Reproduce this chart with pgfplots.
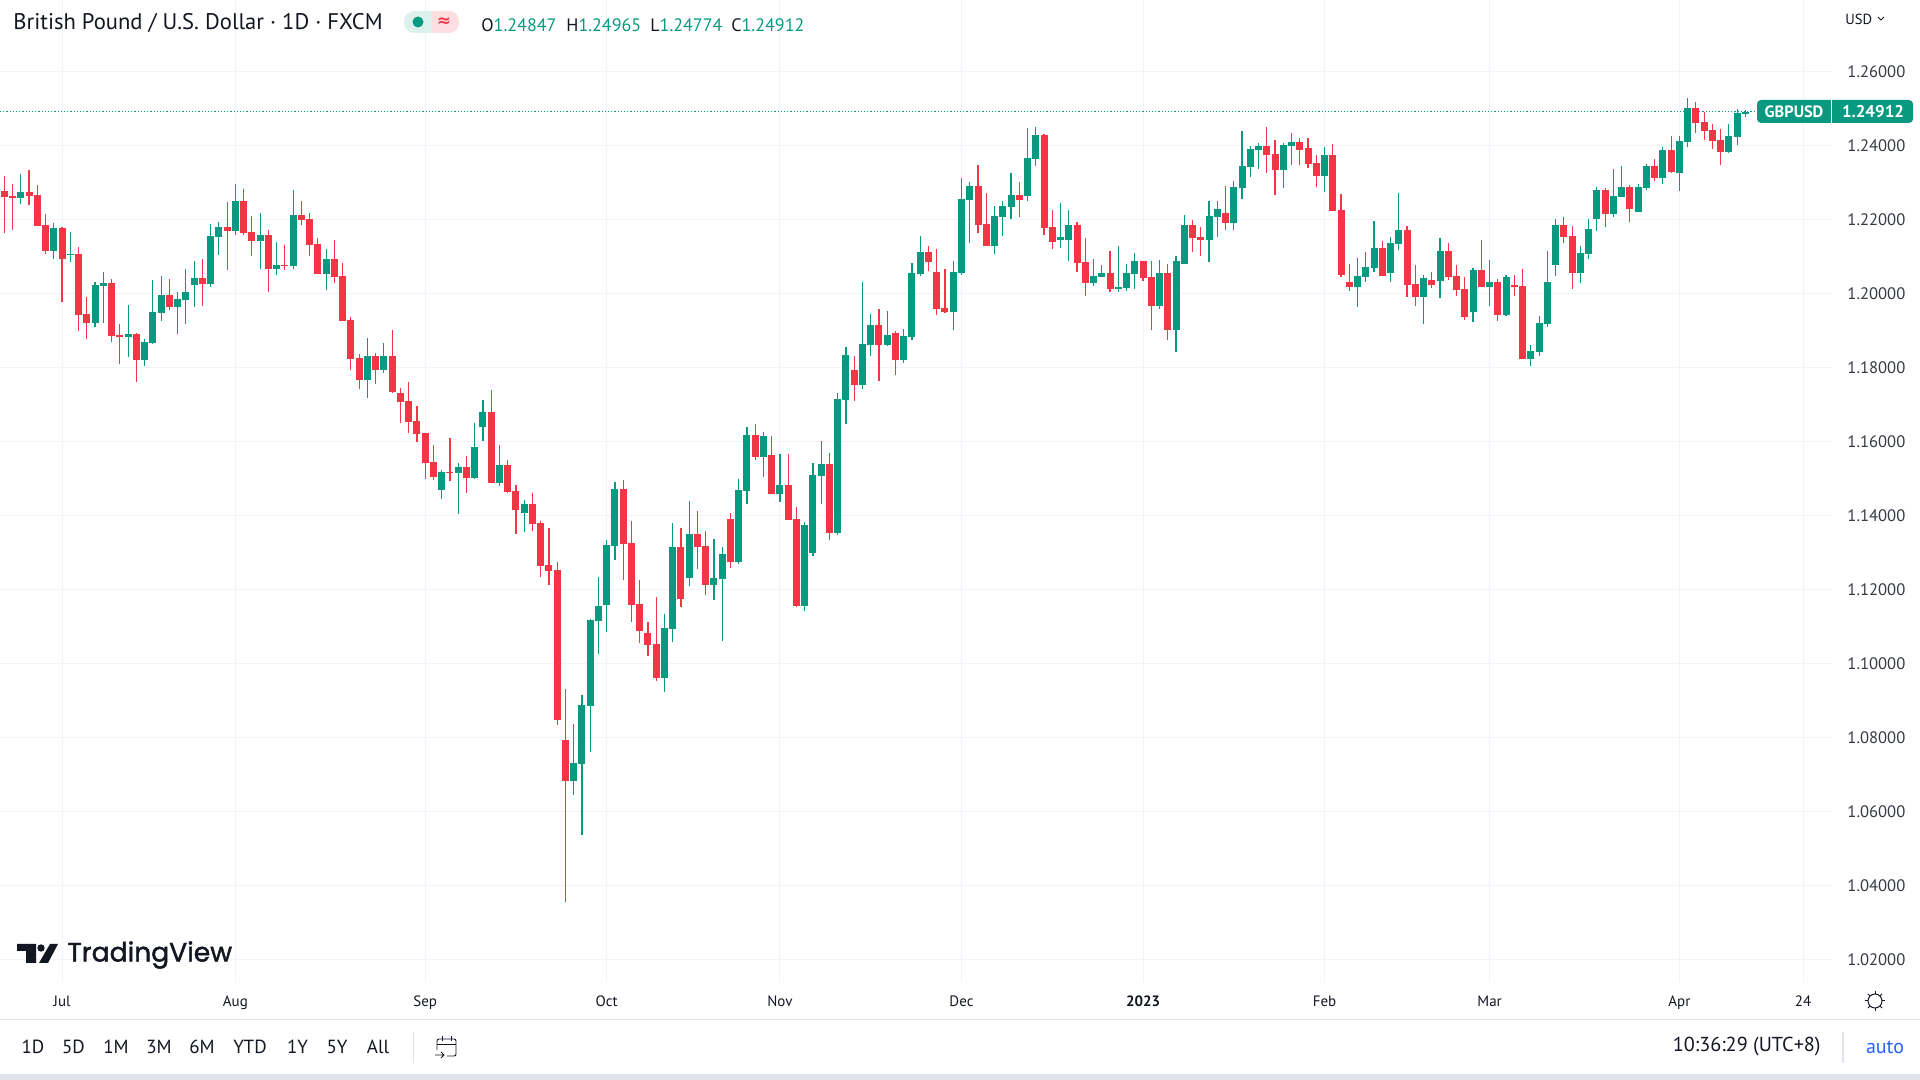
\documentclass[border=0pt]{standalone}
\usepackage{fontspec}
\usepackage{pgfplots}
\usepackage{pgfplotstable}
\pgfplotsset{compat=1.18}
\setmainfont{PT Sans}
\newfontfamily\tvfont[FakeBold=1.6]{Poppins}
\newfontfamily\symfont{DejaVu Sans}
\definecolor{tvgreen}{HTML}{089981}
\definecolor{tvred}{HTML}{F23645}
\definecolor{tvgrid}{HTML}{F0F3FA}
\definecolor{tvsep}{HTML}{E0E3EB}
\definecolor{tvtext}{HTML}{131722}
\pgfplotstableread{
i o h l c
2 1.2257 1.2322 1.2241 1.2273
6 1.2114 1.2189 1.2092 1.2176
8 1.2103 1.2165 1.2084 1.2106
11 1.1919 1.2030 1.1909 1.2022
12 1.2019 1.2057 1.1919 1.2027
15 1.1882 1.1968 1.1828 1.1890
17 1.1820 1.1876 1.1803 1.1868
18 1.1865 1.2036 1.1863 1.1949
19 1.1946 1.2046 1.1925 1.1995
21 1.1963 1.2003 1.1890 1.1984
22 1.1982 1.2065 1.1917 1.2003
23 1.2022 1.2087 1.1963 1.2041
25 1.2025 1.2187 1.2017 1.2154
26 1.2152 1.2192 1.2103 1.2179
28 1.2168 1.2295 1.2157 1.2249
31 1.2141 1.2216 1.2065 1.2157
33 1.2065 1.2138 1.2049 1.2076
35 1.2073 1.2279 1.2065 1.2211
39 1.2052 1.2119 1.2009 1.2092
44 1.1766 1.1879 1.1717 1.1830
46 1.1793 1.1865 1.1784 1.1830
53 1.1469 1.1523 1.1445 1.1517
55 1.1515 1.1542 1.1404 1.1531
57 1.1501 1.1650 1.1499 1.1585
58 1.1639 1.1712 1.1601 1.1679
60 1.1488 1.1590 1.1480 1.1536
63 1.1407 1.1442 1.1355 1.1431
69 1.0683 1.0837 1.0645 1.0731
70 1.0729 1.0915 1.0537 1.0888
71 1.0885 1.1120 1.0761 1.1117
72 1.1115 1.1234 1.1026 1.1155
73 1.1158 1.1333 1.1085 1.1320
74 1.1317 1.1490 1.1279 1.1471
80 1.0961 1.1134 1.0923 1.1096
81 1.1093 1.1379 1.1058 1.1315
83 1.1231 1.1439 1.1209 1.1350
86 1.1212 1.1336 1.1171 1.1231
87 1.1228 1.1315 1.1061 1.1296
89 1.1275 1.1499 1.1269 1.1469
90 1.1466 1.1639 1.1431 1.1618
92 1.1558 1.1626 1.1504 1.1615
94 1.1458 1.1566 1.1437 1.1483
97 1.1156 1.1383 1.1142 1.1375
98 1.1299 1.1542 1.1291 1.1510
99 1.1507 1.1601 1.1431 1.1539
101 1.1353 1.1731 1.1348 1.1715
102 1.1712 1.1855 1.1647 1.1834
104 1.1753 1.2031 1.1742 1.1863
105 1.1861 1.1944 1.1831 1.1915
107 1.1861 1.1952 1.1858 1.1888
109 1.1820 1.1904 1.1812 1.1885
110 1.1882 1.2082 1.1874 1.2055
111 1.2052 1.2155 1.2047 1.2112
115 1.1950 1.2088 1.1901 1.2058
116 1.2055 1.2312 1.2050 1.2255
117 1.2252 1.2301 1.2136 1.2290
120 1.2128 1.2236 1.2107 1.2209
121 1.2207 1.2250 1.2155 1.2236
122 1.2234 1.2325 1.2201 1.2266
124 1.2263 1.2447 1.2250 1.2366
125 1.2363 1.2450 1.2344 1.2428
128 1.2144 1.2244 1.2123 1.2153
129 1.2144 1.2225 1.2088 1.2185
132 1.2028 1.2093 1.2020 1.2047
133 1.2045 1.2077 1.2045 1.2055
135 1.2012 1.2128 1.2004 1.2018
136 1.2015 1.2080 1.2007 1.2055
137 1.2053 1.2109 1.2012 1.2088
140 1.1966 1.2090 1.1958 1.2055
142 1.1901 1.2101 1.1842 1.2088
143 1.2080 1.2212 1.2080 1.2185
146 1.2144 1.2250 1.2085 1.2209
147 1.2207 1.2250 1.2153 1.2228
149 1.2190 1.2304 1.2171 1.2288
150 1.2285 1.2439 1.2255 1.2344
151 1.2342 1.2398 1.2315 1.2390
152 1.2387 1.2406 1.2336 1.2398
155 1.2333 1.2406 1.2285 1.2401
156 1.2398 1.2433 1.2347 1.2409
160 1.2317 1.2396 1.2274 1.2374
164 1.2018 1.2096 1.1963 1.2047
165 1.2045 1.2112 1.2031 1.2072
166 1.2069 1.2196 1.2058 1.2123
168 1.2055 1.2153 1.2031 1.2136
169 1.2134 1.2271 1.2117 1.2171
172 1.1991 1.2050 1.1918 1.2042
174 1.2034 1.2150 1.1988 1.2115
178 1.1950 1.2069 1.1923 1.2063
180 1.2018 1.2090 1.1966 1.2031
182 1.1942 1.2050 1.1939 1.2045
185 1.1823 1.1861 1.1804 1.1845
186 1.1842 1.1939 1.1831 1.1920
187 1.1918 1.2115 1.1910 1.2031
188 1.2076 1.2200 1.2046 1.2184
191 1.2054 1.2127 1.2027 1.2108
192 1.2106 1.2200 1.2092 1.2173
193 1.2200 1.2287 1.2168 1.2279
195 1.2214 1.2335 1.2206 1.2262
196 1.2260 1.2343 1.2260 1.2287
198 1.2219 1.2295 1.2219 1.2287
199 1.2284 1.2349 1.2279 1.2343
201 1.2311 1.2395 1.2295 1.2387
203 1.2324 1.2424 1.2276 1.2411
204 1.2408 1.2527 1.2395 1.2500
209 1.2381 1.2457 1.2378 1.2424
210 1.2422 1.2497 1.2400 1.2486
211 1.24847 1.24965 1.24774 1.24912
}\updata
\pgfplotstableread{
i o h l c
0 1.2276 1.2316 1.2162 1.2260
1 1.2262 1.2295 1.2171 1.2257
3 1.2273 1.2333 1.2238 1.2262
4 1.2265 1.2292 1.2181 1.2181
5 1.2184 1.2214 1.2106 1.2114
7 1.2176 1.2179 1.1976 1.2092
9 1.2106 1.2125 1.1898 1.1941
10 1.1944 1.1990 1.1876 1.1919
13 1.2027 1.2038 1.1868 1.1884
14 1.1887 1.1917 1.1809 1.1882
16 1.1890 1.1892 1.1760 1.1820
20 1.1995 1.2038 1.1955 1.1963
24 1.2041 1.2092 1.1965 1.2025
27 1.2179 1.2246 1.2063 1.2168
29 1.2249 1.2281 1.2157 1.2162
30 1.2165 1.2208 1.2100 1.2141
32 1.2157 1.2171 1.2003 1.2065
34 1.2076 1.2130 1.2063 1.2073
36 1.2211 1.2249 1.2184 1.2198
37 1.2200 1.2216 1.2100 1.2130
38 1.2133 1.2149 1.2052 1.2052
40 1.2092 1.2144 1.2027 1.2044
41 1.2046 1.2081 1.1925 1.1925
42 1.1928 1.1936 1.1793 1.1822
43 1.1825 1.1836 1.1741 1.1766
45 1.1830 1.1838 1.1755 1.1793
47 1.1830 1.1901 1.1730 1.1733
48 1.1730 1.1744 1.1649 1.1706
49 1.1709 1.1760 1.1623 1.1652
50 1.1655 1.1696 1.1598 1.1620
51 1.1623 1.1623 1.1499 1.1542
52 1.1544 1.1590 1.1496 1.1504
54 1.1517 1.1609 1.1493 1.1515
56 1.1531 1.1561 1.1461 1.1501
59 1.1679 1.1739 1.1488 1.1488
61 1.1536 1.1550 1.1461 1.1463
62 1.1466 1.1482 1.1350 1.1415
64 1.1431 1.1461 1.1358 1.1377
65 1.1380 1.1385 1.1234 1.1264
66 1.1266 1.1366 1.1212 1.1250
67 1.1252 1.1274 1.0834 1.0847
68 1.0793 1.0931 1.0356 1.0683
75 1.1471 1.1495 1.1225 1.1323
76 1.1325 1.1385 1.1112 1.1158
77 1.1161 1.1225 1.1055 1.1088
78 1.1082 1.1112 1.1020 1.1050
79 1.1053 1.1180 1.0953 1.0961
82 1.1315 1.1366 1.1153 1.1174
84 1.1350 1.1412 1.1255 1.1315
85 1.1317 1.1358 1.1185 1.1212
88 1.1391 1.1407 1.1258 1.1275
91 1.1618 1.1647 1.1550 1.1558
93 1.1564 1.1615 1.1458 1.1458
95 1.1483 1.1566 1.1388 1.1388
96 1.1391 1.1423 1.1153 1.1156
100 1.1539 1.1569 1.1334 1.1353
103 1.1793 1.1831 1.1709 1.1753
106 1.1915 1.1958 1.1763 1.1861
108 1.1893 1.1898 1.1780 1.1820
112 1.2112 1.2128 1.2060 1.2085
113 1.2058 1.2120 1.1942 1.1958
114 1.1960 1.2066 1.1947 1.1950
118 1.2290 1.2347 1.2163 1.2185
119 1.2188 1.2271 1.2128 1.2128
123 1.2266 1.2301 1.2207 1.2252
126 1.2428 1.2431 1.2158 1.2177
127 1.2180 1.2225 1.2120 1.2139
130 1.2185 1.2193 1.2058 1.2082
131 1.2085 1.2150 1.1993 1.2028
134 1.2055 1.2115 1.2004 1.2012
138 1.2088 1.2088 1.2034 1.2042
139 1.2045 1.2088 1.1901 1.1966
141 1.2055 1.2080 1.1874 1.1901
144 1.2185 1.2198 1.2112 1.2150
145 1.2153 1.2180 1.2101 1.2144
148 1.2217 1.2290 1.2171 1.2190
153 1.2398 1.2450 1.2325 1.2374
154 1.2377 1.2414 1.2266 1.2333
157 1.2409 1.2420 1.2347 1.2387
158 1.2393 1.2420 1.2339 1.2350
159 1.2352 1.2374 1.2288 1.2317
161 1.2374 1.2404 1.2223 1.2223
162 1.2225 1.2269 1.2045 1.2050
163 1.2031 1.2080 1.2007 1.2018
167 1.2123 1.2142 1.2047 1.2047
170 1.2171 1.2182 1.1991 1.2023
171 1.2026 1.2077 1.1966 1.1991
173 1.2036 1.2058 1.2015 1.2023
175 1.2115 1.2136 1.2036 1.2045
176 1.2047 1.2077 1.1993 1.2009
177 1.2012 1.2045 1.1928 1.1937
179 1.2063 1.2144 1.2018 1.2018
181 1.2031 1.2039 1.1926 1.1942
183 1.2023 1.2050 1.1993 1.2018
184 1.2020 1.2066 1.1823 1.1823
189 1.2184 1.2206 1.2135 1.2152
190 1.2154 1.2181 1.2011 1.2054
194 1.2279 1.2284 1.2179 1.2214
197 1.2287 1.2292 1.2192 1.2227
200 1.2343 1.2362 1.2303 1.2311
202 1.2387 1.2424 1.2324 1.2327
205 1.2500 1.2516 1.2432 1.2459
206 1.2462 1.2489 1.2414 1.2438
207 1.2441 1.2457 1.2389 1.2411
208 1.2414 1.2443 1.2346 1.2381
}\downdata
\begin{document}
\begin{tikzpicture}
\path[use as bounding box,fill=white] (0,0) rectangle (960pt,540pt);
\begin{axis}[
  at={(0pt,49pt)},anchor=south west,
  scale only axis,width=916pt,height=491pt,
  xmin=-0.525,xmax=221.5,ymin=1.01402,ymax=1.27924,
  axis line style={draw=none},tick style={draw=none},
  xmajorgrids,ymajorgrids,
  grid style={draw=tvgrid,line width=0.5pt},
  xtick={7,28,51,73,94,116,138,160,180,203,218},
  xticklabels={Jul,Aug,Sep,Oct,Nov,Dec,\textbf{2023},Feb,Mar,Apr,24},
  xticklabel style={font=\fontsize{7.5}{9}\selectfont,text=tvtext,yshift=-3.3pt},
  ytick={1.02,1.04,1.06,1.08,1.10,1.12,1.14,1.16,1.18,1.20,1.22,1.24,1.26},
  yticklabel pos=right,
  yticklabel style={font=\fontsize{8.3}{10}\selectfont,text=tvtext!85,xshift=4.2pt,
    /pgf/number format/.cd,fixed,fixed zerofill,precision=5,assume math mode=true},
  clip=true,
]
\addplot[forget plot,tvgreen,line width=0.5pt,dash pattern=on 0.6pt off 1pt] coordinates {(-0.525,1.24912) (212.4,1.24912)};
% wicks
\addplot[forget plot,draw=none,mark=none,error bars/.cd,y dir=plus,y explicit,error mark=none,
  error bar style={line width=0.6pt,color=tvgreen,solid}]
  table[x=i,y=l,y error expr=\thisrow{h}-\thisrow{l}] {\updata};
\addplot[forget plot,draw=none,mark=none,error bars/.cd,y dir=plus,y explicit,error mark=none,
  error bar style={line width=0.6pt,color=tvred,solid}]
  table[x=i,y=l,y error expr=\thisrow{h}-\thisrow{l}] {\downdata};
% bodies
\addplot[forget plot,draw=none,mark=none,error bars/.cd,y dir=plus,y explicit,error mark=none,
  error bar style={line width=3.5pt,color=tvgreen,solid}]
  table[x=i,y=o,y error expr=\thisrow{c}-\thisrow{o}] {\updata};
\addplot[forget plot,draw=none,mark=none,error bars/.cd,y dir=plus,y explicit,error mark=none,
  error bar style={line width=3.5pt,color=tvred,solid}]
  table[x=i,y=c,y error expr=\thisrow{o}-\thisrow{c}] {\downdata};
\end{axis}
\begin{scope}[shift={(0pt,540pt)},x=0.5pt,y=-0.5pt]
  % header
  \node[anchor=west,text=tvtext,font=\fontsize{11.3}{13}\selectfont,inner sep=0] at (13,23) {British Pound / U.S. Dollar · 1D · FXCM};
  \fill[tvgreen!14,rounded corners=5pt] (404,11) rectangle (440,33);
  \fill[tvred!16,rounded corners=5pt] (424,11) rectangle (459,33);
  \fill[tvgreen!14] (424,11) rectangle (432,33);
  \fill[tvgreen] (418,22) circle (5.5);
  \node[text=tvred,font=\symfont\bfseries\fontsize{8.5}{10}\selectfont,inner sep=0] at (444,22) {≈};
  \foreach \xx/\lab/\val in {481/O/1.24847,566/H/1.24965,650/L/1.24774,731/C/1.24912}{
    \node[anchor=west,inner sep=0,font=\fontsize{9}{11}\selectfont] at (\xx,25) {\textcolor{tvtext}{\lab}\textcolor{tvgreen}{\val}};
  }
  \node[anchor=west,inner sep=0,text=tvtext,font=\fontsize{7.3}{9}\selectfont] at (1845,19) {USD};
  \draw[tvtext,line width=0.4pt] (1878,17) -- (1881,20) -- (1884,17);
  % price label
  \fill[tvgreen,rounded corners=2pt] (1757,100) rectangle (1913,123);
  \draw[white,line width=0.5pt] (1831,100) -- (1831,123);
  \node[text=white,font=\bfseries\fontsize{8.2}{10}\selectfont,inner sep=0] at (1794,112) {GBPUSD};
  \node[text=white,font=\bfseries\fontsize{8.5}{10}\selectfont,inner sep=0] at (1873,112) {1.24912};
  % logo
  \fill[tvtext] (17,944) -- (36,944) -- (36,963) -- (26,963) -- (26,951) -- (17,951) -- cycle;
  \fill[tvtext] (41,948) circle (3.7);
  \fill[tvtext] (50,944) -- (58,944) -- (48,963) -- (39,963) -- cycle;
  \node[anchor=west,inner sep=0,text=tvtext,font=\tvfont\fontsize{13.3}{16}\selectfont] at (67,955) {TradingView};
  % bottom bar
  \draw[tvsep,line width=0.5pt] (0,1020) -- (1920,1020);
  \foreach \xx/\lab in {33/1D,73.5/5D,116/1M,159/3M,202/6M,250/YTD,297.5/1Y,337/5Y,378/All}{
    \node[text=tvtext,font=\fontsize{9.5}{11}\selectfont,inner sep=0] at (\xx,1047) {\lab};
  }
  \draw[tvsep,line width=0.5pt] (413,1032) -- (413,1063);
  \draw[tvtext,line width=0.45pt,rounded corners=1pt] (437,1050) -- (437,1039) -- (456,1039) -- (456,1056) -- (447,1056);
  \draw[tvtext,line width=0.45pt] (437,1044) -- (456,1044) (442,1036) -- (442,1041) (451,1036) -- (451,1041);
  \draw[tvtext,line width=0.45pt] (435,1055) -- (444,1055) (441,1052) -- (444,1055) -- (441,1058);
  \node[anchor=east,inner sep=0,text=tvtext,font=\fontsize{10.1}{12}\selectfont] at (1821,1047) {10:36:29 (UTC+8)};
  \draw[tvsep,line width=0.8pt] (1843,1032) -- (1843,1063);
  \node[text={rgb,255:red,41;green,98;blue,255},font=\fontsize{10}{12}\selectfont,inner sep=0] at (1885,1047) {auto};
  \fill[tvsep] (0,1074) rectangle (1920,1080);
  % gear
  \draw[tvtext,line width=0.5pt] (1875,1001) circle (7);
  \foreach \a in {0,45,...,315}{\draw[tvtext,line width=0.5pt] (1875,1001) ++(\a:7) -- ++(\a:3);}
\end{scope}
\end{tikzpicture}
\end{document}
